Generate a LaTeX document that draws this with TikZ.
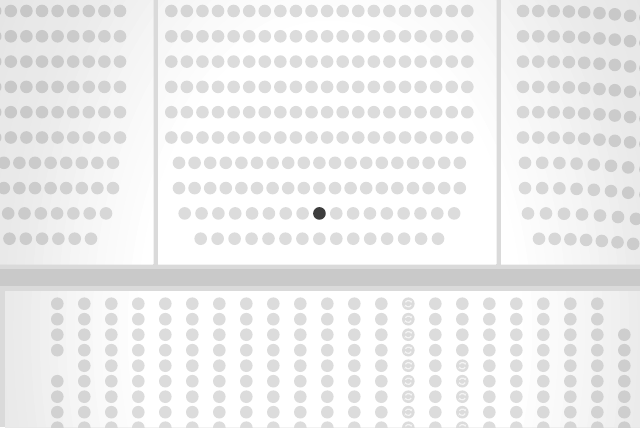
\documentclass[tikz,border=0pt]{standalone}
\usepackage{tikz}
\usetikzlibrary{arrows.meta}
\usepackage{xcolor}
\definecolor{aislegray}{HTML}{DADADA}
\definecolor{bandgray}{HTML}{C9C9C9}
\definecolor{seatgray}{HTML}{DCDCDC}
\definecolor{seatdark}{HTML}{3D3D3D}
\definecolor{iconwhite}{HTML}{F4F4F4}

% how much is left of a colour at ring distance #1 (0..50) from the middle
\newcommand{\dimlevel}[1]{%
  \pgfmathsetmacro{\dk}{#1<22 ? 100 : (#1<30 ? 100-(#1-22)/2 : (#1<36 ? 96-(#1-30)*4/6 : (#1<48 ? 92-(#1-36)/4 : 89)))}}

% one seat, darkened the same way as the floor
\newcommand{\seatdot}[2]{%
  \pgfmathsetmacro{\dd}{50*sqrt(((#1-330)/440)^2+((#2-330)/704)^2)}%
  \dimlevel{\dd}%
  \fill[seatgray!\dk!black] (#1,#2) circle (6.3);}

\begin{document}
\begin{tikzpicture}[x=0.5pt, y=-0.5pt,
  swapicon/.style={draw=iconwhite, line width=0.6pt, -{Stealth[length=1.2pt,width=1.5pt]}}]
  \useasboundingbox (0,0) rectangle (640,427);
  \clip (0,0) rectangle (640,427);

  % Floor and aisles
  \fill[aislegray] (0,0) rectangle (640,427);
  \fill[bandgray] (0,269) rectangle (640,286);

  % Sections, lighter towards the middle
  \begin{scope}
    \clip (0,0) rectangle (153,264) (158,0) rectangle (496,264)
      (501,0) rectangle (640,264) (5,291) rectangle (640,427);
    \fill[white!89!black] (0,0) rectangle (640,427);
    \foreach \ring in {50,49,...,22} {
      \dimlevel{\ring}
      \fill[white!\dk!black] (330,330) ellipse ({8.8*\ring} and {14.08*\ring});
    }
  \end{scope}

  % Left section
  \foreach \r in {0,...,5}
    \foreach \k in {0,...,8}
      {\seatdot{120-15.6*\k}{11+25.3*\r}}
  \foreach \r in {6,7}
    \foreach \k in {0,...,7}
      {\seatdot{113-15.6*\k}{11+25.3*\r}}
  \foreach \k in {0,...,6}
    {\seatdot{106-16.3*\k}{11+25.3*8}}
  \foreach \k in {0,...,5}
    {\seatdot{91-16.3*\k}{11+25.3*9}}

  % Centre section
  \foreach \r in {0,...,5}
    \foreach \k in {0,...,19}
      {\seatdot{171.3+15.58*\k}{11+25.3*\r}}
  \foreach \r in {6,7}
    \foreach \k in {0,...,18}
      {\seatdot{179+15.6*\k}{11+25.3*\r}}
  \foreach \k in {0,...,16}
    {\seatdot{184.7+16.84*\k}{11+25.3*8}}
  \foreach \k in {0,...,14}
    {\seatdot{200.7+16.95*\k}{11+25.3*9}}
  % selected seat
  \fill[seatdark] ({184.7+16.84*8},{11+25.3*8}) circle (6.3);

  % Right section (rows bend down to the right)
  \foreach \r in {0,...,5}
    \foreach \k in {0,...,8} {
      \pgfmathsetmacro{\sx}{523+15.3*\k}
      \pgfmathsetmacro{\sy}{11+25.3*\r+0.0006*pow(max(\sx-540,0),2)}
      \seatdot{\sx}{\sy}
    }
  \foreach \r in {6,7}
    \foreach \k in {0,...,7} {
      \pgfmathsetmacro{\sx}{525+17.2*\k}
      \pgfmathsetmacro{\sy}{11+25.3*\r+0.0006*pow(max(\sx-540,0),2)}
      \seatdot{\sx}{\sy}
    }
  \foreach \k in {0,...,6} {
    \pgfmathsetmacro{\sx}{528+18*\k}
    \pgfmathsetmacro{\sy}{11+25.3*8+0.0006*pow(max(\sx-540,0),2)}
    \seatdot{\sx}{\sy}
  }
  \foreach \k in {0,...,6} {
    \pgfmathsetmacro{\sx}{539+15.7*\k}
    \pgfmathsetmacro{\sy}{11+25.3*9+0.0006*pow(max(\sx-540,0),2)}
    \seatdot{\sx}{\sy}
  }

  % Lower section, seats in columns
  \foreach \c in {0,...,21}
    \foreach \r in {0,...,8} {
      \pgfmathtruncatemacro{\gone}{(\c==0 && \r==4) || (\c==21 && \r<2)}
      \pgfmathtruncatemacro{\swap}{\c==13 || (\c==15 && \r>3)}
      \pgfmathsetmacro{\sx}{57.3+27*\c}
      \pgfmathsetmacro{\sy}{303.7+15.5*\r}
      \ifnum\gone=0
        \seatdot{\sx}{\sy}
      \fi
      \ifnum\swap=1
        \begin{scope}[shift={(\sx,\sy)}]
          \draw[swapicon] (25:3.2) arc (25:165:3.2);
          \draw[swapicon] (205:3.2) arc (205:345:3.2);
        \end{scope}
      \fi
    }
\end{tikzpicture}
\end{document}
